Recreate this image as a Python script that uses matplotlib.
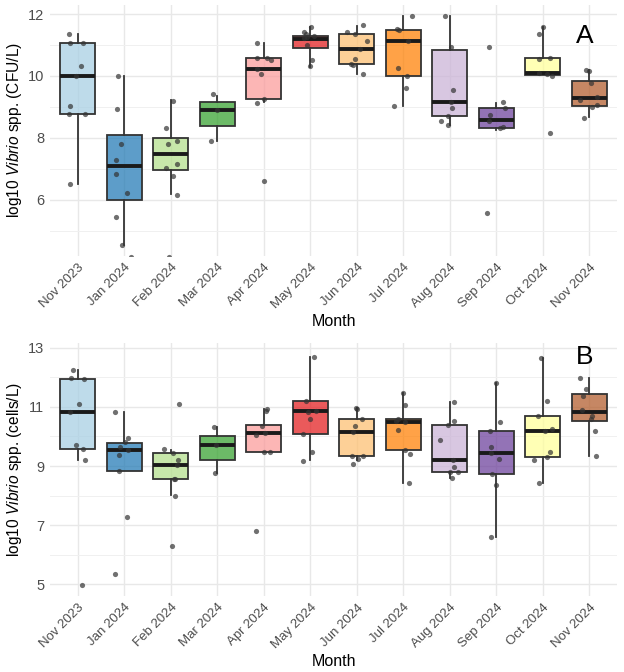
import matplotlib.pyplot as plt
from matplotlib.colors import to_rgba

plt.rcParams['font.family'] = ['Liberation Sans', 'DejaVu Sans']
plt.rcParams['mathtext.fontset'] = 'custom'
plt.rcParams['mathtext.rm'] = 'Liberation Sans'
plt.rcParams['mathtext.it'] = 'Liberation Sans:italic'

months = ['Nov 2023', 'Jan 2024', 'Feb 2024', 'Mar 2024', 'Apr 2024', 'May 2024',
          'Jun 2024', 'Jul 2024', 'Aug 2024', 'Sep 2024', 'Oct 2024', 'Nov 2024']
colors = ['#A6CEE3', '#1F78B4', '#B2DF8A', '#33A02C', '#FB9A99', '#E31A1C',
          '#FDBF6F', '#FF7F00', '#CAB2D6', '#6A3D9A', '#FFFF99', '#B15928']

# Panel A - culture counts (log10 CFU/L), box statistics per month
cfu_whislo = [6.50, 4.55, 6.18, 7.89, 9.16, 10.29, 10.08, 9.02, 8.42, 8.27, 10.02, 8.67]
cfu_q1 = [8.77, 6.01, 6.95, 8.38, 9.26, 10.89, 10.39, 10.01, 8.70, 8.32, 10.02, 9.02]
cfu_med = [10.00, 7.08, 7.47, 8.89, 10.23, 11.20, 10.88, 11.14, 9.16, 8.58, 10.10, 9.30]
cfu_q3 = [11.08, 8.10, 8.01, 9.16, 10.57, 11.30, 11.36, 11.48, 10.83, 8.98, 10.57, 9.85]
cfu_whishi = [11.37, 10.01, 9.21, 9.37, 11.05, 11.59, 11.61, 11.94, 11.94, 9.13, 11.57, 10.18]

# individual samples (value) and their jitter offset
cfu_vals = [
    [11.37, 11.08, 11.08, 10.31, 9.99, 9.02, 8.77, 8.77, 6.50],
    [10.01, 8.94, 7.82, 7.29, 6.84, 6.23, 5.44, 4.55, 4.17],
    [9.19, 8.31, 7.91, 7.81, 7.15, 7.03, 6.78, 6.16, 4.17],
    [9.43, 8.89, 7.89],
    [11.07, 10.57, 10.59, 10.53, 10.23, 10.05, 9.26, 9.12, 6.62],
    [11.57, 11.41, 11.37, 11.26, 11.29, 11.23, 10.99, 10.53, 10.31],
    [11.63, 11.42, 11.37, 11.14, 10.88, 10.56, 10.40, 10.37, 10.07],
    [11.94, 11.50, 11.47, 11.14, 10.27, 10.01, 9.60, 9.02],
    [11.94, 10.94, 9.54, 9.16, 8.98, 8.70, 8.54, 8.42],
    [10.92, 9.15, 8.97, 8.74, 8.56, 8.34, 8.32, 5.57],
    [11.57, 11.35, 10.56, 10.58, 10.11, 10.05, 10.00, 8.17],
    [10.18, 10.15, 9.76, 9.23, 9.32, 9.00, 9.05, 8.66],
]
cfu_jit = [
    [-0.19, -0.17, 0.11, 0.06, -0.03, -0.16, -0.19, 0.15, -0.16],
    [-0.14, -0.16, -0.07, -0.17, -0.17, 0.06, -0.17, -0.04, 0.14],
    [0.04, -0.11, 0.14, -0.06, 0.14, -0.10, 0.04, 0.13, -0.03],
    [-0.10, 0.0, -0.14],
    [-0.15, -0.15, 0.06, 0.16, -0.14, -0.06, 0.0, -0.15, 0.0],
    [0.01, -0.13, -0.09, -0.07, 0.07, -0.13, -0.06, 0.04, 0.0],
    [0.14, -0.20, -0.04, 0.21, 0.06, -0.04, -0.13, -0.08, 0.14],
    [0.19, -0.13, -0.09, 0.10, -0.11, 0.09, 0.06, -0.20],
    [-0.11, 0.02, 0.08, 0.02, 0.05, -0.04, -0.18, -0.03],
    [-0.16, 0.15, 0.19, -0.14, -0.15, 0.14, 0.08, -0.19],
    [0.0, -0.07, -0.09, 0.15, -0.08, 0.10, 0.20, 0.16],
    [-0.06, 0.0, 0.04, -0.19, 0.17, 0.07, 0.16, -0.12],
]

# Panel B - qPCR counts (log10 cells/L)
cell_whislo = [9.21, 8.84, 8.01, 8.76, 9.49, 9.21, 9.21, 8.42, 8.59, 6.60, 8.42, 9.35]
cell_q1 = [9.57, 8.84, 8.55, 9.22, 9.49, 10.10, 9.35, 9.55, 8.81, 8.72, 9.32, 10.53]
cell_med = [10.82, 9.53, 9.03, 9.70, 10.12, 10.86, 10.15, 10.48, 9.21, 9.45, 10.18, 10.83]
cell_q3 = [11.95, 9.79, 9.43, 10.01, 10.38, 11.21, 10.59, 10.60, 10.40, 10.19, 10.69, 11.43]
cell_whishi = [12.26, 10.82, 9.55, 10.32, 10.94, 12.69, 10.96, 11.47, 11.16, 11.81, 12.67, 11.98]

cell_vals = [
    [12.26, 11.98, 11.95, 11.11, 10.82, 9.71, 9.58, 9.21, 4.98],
    [10.82, 9.95, 9.80, 9.64, 9.53, 9.38, 8.84, 7.28, 5.35],
    [11.09, 9.58, 9.43, 9.22, 9.04, 8.55, 8.55, 8.00, 6.30],
    [10.32, 9.70, 8.76],
    [10.94, 10.87, 10.36, 10.13, 10.05, 9.49, 9.49, 6.79],
    [12.69, 11.21, 10.87, 10.84, 10.59, 10.10, 9.49, 9.18],
    [10.96, 10.93, 10.59, 10.34, 10.15, 9.35, 9.35, 9.23, 9.07],
    [11.47, 11.05, 10.59, 10.53, 10.48, 10.23, 9.55, 9.40, 8.42],
    [11.16, 10.51, 10.40, 9.87, 9.21, 8.98, 8.81, 8.81, 8.59],
    [11.81, 10.48, 10.17, 9.64, 9.45, 9.23, 8.72, 8.35, 6.60],
    [12.67, 11.21, 10.69, 10.27, 10.18, 9.48, 9.32, 9.19, 8.42],
    [11.98, 11.59, 11.36, 10.91, 10.68, 10.59, 10.18, 9.35],
]
cell_jit = [
    [-0.10, -0.14, 0.14, 0.03, -0.17, -0.03, 0.11, 0.16, 0.09],
    [-0.19, 0.07, 0.01, -0.09, 0.09, -0.12, -0.11, 0.06, -0.19],
    [0.18, -0.14, 0.04, 0.15, 0.13, 0.10, 0.07, 0.09, 0.02],
    [-0.08, -0.03, -0.04],
    [0.07, 0.04, -0.03, 0.02, -0.16, 0.0, 0.13, -0.16],
    [0.07, -0.09, 0.13, -0.04, 0.0, -0.16, 0.04, -0.16],
    [-0.02, 0.0, 0.12, -0.04, -0.09, -0.10, 0.13, 0.03, -0.08],
    [0.0, 0.04, -0.12, -0.16, 0.03, -0.11, 0.03, 0.14, 0.12],
    [0.09, 0.09, -0.04, -0.20, 0.06, 0.09, 0.0, 0.17, 0.05],
    [-0.01, 0.08, -0.14, -0.11, -0.11, 0.06, -0.10, 0.0, -0.11],
    [-0.03, 0.09, -0.11, 0.19, 0.04, 0.16, 0.10, -0.18, -0.09],
    [-0.20, -0.08, -0.14, -0.15, 0.07, 0.03, 0.12, 0.15],
]


def draw_panel(ax, whislo, q1, med, q3, whishi, vals, jit, ylim, major, minor, ylabel, tag, tag_xy):
    stats = []
    for i in range(len(months)):
        stats.append(dict(whislo=whislo[i], q1=q1[i], med=med[i], q3=q3[i],
                          whishi=whishi[i], fliers=[]))
    pos = list(range(1, len(months) + 1))
    bp = ax.bxp(stats, positions=pos, widths=0.76, patch_artist=True,
                showfliers=False, showcaps=False,
                boxprops=dict(edgecolor='#333333', linewidth=1.3),
                medianprops=dict(color='#1a1a1a', linewidth=2.8, solid_capstyle='butt'),
                whiskerprops=dict(color='#333333', linewidth=1.3))
    for patch, c in zip(bp['boxes'], colors):
        patch.set_facecolor(to_rgba(c, 0.72))

    # jittered samples on top of the boxes
    for i, p in enumerate(pos):
        xs = [p + d for d in jit[i]]
        ax.scatter(xs, vals[i], s=14, color='#333333', alpha=0.7, linewidths=0, zorder=4)

    ax.set_xlim(0.4, 12.6)
    ax.set_ylim(*ylim)
    ax.set_xticks(pos)
    ax.set_xticklabels(months, rotation=45, ha='right', va='top', rotation_mode='anchor')
    ax.set_yticks(major)
    ax.set_yticks(minor, minor=True)
    ax.set_axisbelow(True)
    ax.grid(which='major', color='#E8E8E8', linewidth=1.0)
    ax.grid(which='minor', axis='y', color='#F0F0F0', linewidth=0.7)
    ax.tick_params(which='both', length=0, labelcolor='#4D4D4D')
    ax.tick_params(axis='y', labelsize=10.5, pad=4)
    ax.tick_params(axis='x', labelsize=9.5, pad=4)
    for s in ax.spines.values():
        s.set_visible(False)
    ax.set_ylabel(ylabel, fontsize=11.2, labelpad=3)
    ax.set_xlabel('Month', fontsize=11.5, labelpad=2)
    ax.text(tag_xy[0], tag_xy[1], tag, fontsize=19, ha='center', va='center')


fig = plt.figure(figsize=(6.24, 6.72), dpi=100)
ax1 = fig.add_axes([0.080, 0.619, 0.909, 0.374])
ax2 = fig.add_axes([0.080, 0.113, 0.909, 0.376])

draw_panel(ax1, cfu_whislo, cfu_q1, cfu_med, cfu_q3, cfu_whishi, cfu_vals, cfu_jit,
           (4.19, 12.3), [6, 8, 10, 12], [5, 7, 9, 11],
           r'log10 $\it{Vibrio}$ spp. (CFU/L)', 'A', (11.9, 11.3))
draw_panel(ax2, cell_whislo, cell_q1, cell_med, cell_q3, cell_whishi, cell_vals, cell_jit,
           (4.6, 13.15), [5, 7, 9, 11, 13], [6, 8, 10, 12],
           r'log10 $\it{Vibrio}$ spp. (cells/L)', 'B', (11.9, 12.68))

fig.savefig('out.png', dpi=100)
